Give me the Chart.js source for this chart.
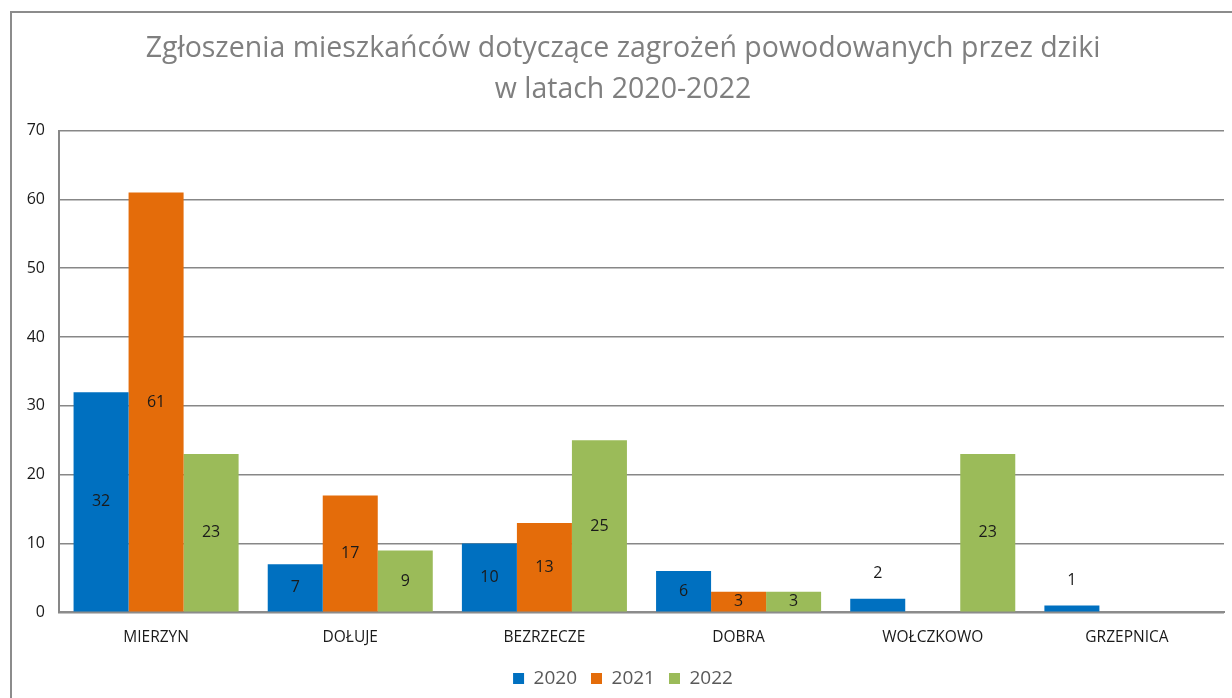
<!DOCTYPE html>
<html lang="pl">
<head>
<meta charset="utf-8">
<title>Zgłoszenia mieszkańców - dziki</title>
<script src="https://cdn.jsdelivr.net/npm/chart.js@4/dist/chart.umd.min.js"></script>
<style>
  html, body { margin: 0; padding: 0; background: #fff; }
  #wrap { position: relative; width: 1232px; height: 698px; overflow: hidden; }
  #frame { position: absolute; left: 10px; top: 11px; width: 1300px; height: 800px; border: 2px solid #8c8c8c; box-sizing: border-box; }
  #chart { position: absolute; left: 0; top: 0; }
</style>
</head>
<body>
<div id="wrap">
  <div id="frame"></div>
  <canvas id="chart" width="1232" height="698"></canvas>
</div>
<script>
// Dane z wykresu
const titleLines = ['Zgłoszenia mieszkańców dotyczące zagrożeń powodowanych przez dziki', 'w latach 2020-2022'];
const categories = ['MIERZYN', 'DOŁUJE', 'BEZRZECZE', 'DOBRA', 'WOŁCZKOWO', 'GRZEPNICA'];
const years = ['2020', '2021', '2022'];
const values2020 = [32, 7, 10, 6, 2, 1];
const values2021 = [61, 17, 13, 3, 0, 0];
const values2022 = [23, 9, 25, 3, 23, 0];
const yTicks = [0, 10, 20, 30, 40, 50, 60, 70];

const seriesColors = ['#0070c0', '#e46c0a', '#9bbb59'];
const FONT = '"Open Sans", "Noto Sans", sans-serif';

// Etykiety wartości: w środku słupka, nad słupkiem gdy słupek jest za niski
const valueLabels = {
    id: 'valueLabels',
    afterDatasetsDraw(chart) {
        const ctx = chart.ctx;
        ctx.save();
        ctx.font = '16px ' + FONT;
        ctx.fillStyle = '#1a1a1a';
        ctx.textAlign = 'center';
        ctx.textBaseline = 'middle';
        chart.data.datasets.forEach((ds, i) => {
            const meta = chart.getDatasetMeta(i);
            meta.data.forEach((bar, j) => {
                const v = ds.data[j];
                if (!v) return;
                const h = bar.base - bar.y;
                let y = bar.y + h / 2;
                if (h < 17) y = bar.y - 25;
                ctx.fillText(String(v), bar.x, y);
            });
        });
        ctx.restore();
    }
};

const ctx = document.getElementById('chart').getContext('2d');
new Chart(ctx, {
    type: 'bar',
    data: {
        labels: categories,
        datasets: [
            { label: years[0], data: values2020, backgroundColor: seriesColors[0] },
            { label: years[1], data: values2021, backgroundColor: seriesColors[1] },
            { label: years[2], data: values2022, backgroundColor: seriesColors[2] }
        ]
    },
    options: {
        responsive: false,
        animation: false,
        datasets: { bar: { categoryPercentage: 0.85, barPercentage: 1.0 } },
        layout: { padding: { left: 22, right: 8, top: 0, bottom: 0 } },
        plugins: {
            title: {
                display: true,
                text: titleLines,
                color: '#7f7f7f',
                font: { family: FONT, size: 28.5, weight: 'normal', lineHeight: 1.45 },
                padding: { top: 28, bottom: 20 }
            },
            legend: {
                position: 'bottom',
                labels: {
                    color: '#595959',
                    font: { family: FONT, size: 19 },
                    boxWidth: 11,
                    boxHeight: 11,
                    padding: 14
                }
            },
            tooltip: { enabled: false }
        },
        scales: {
            x: {
                grid: { display: false },
                border: { display: true, color: '#8c8c8c', width: 2 },
                ticks: { color: '#1a1a1a', font: { family: FONT, size: 15.5 }, padding: 8 }
            },
            y: {
                min: 0,
                max: 70,
                afterBuildTicks(scale) {
                    scale.ticks = yTicks.map(v => ({ value: v }));
                },
                afterFit(scale) { scale.width = 37; },
                grid: { color: '#878787', lineWidth: 1.6, drawTicks: false },
                border: { display: true, color: '#878787', width: 2 },
                ticks: { color: '#1a1a1a', font: { family: FONT, size: 16 }, padding: 14 }
            }
        }
    },
    plugins: [valueLabels]
});
</script>
</body>
</html>
